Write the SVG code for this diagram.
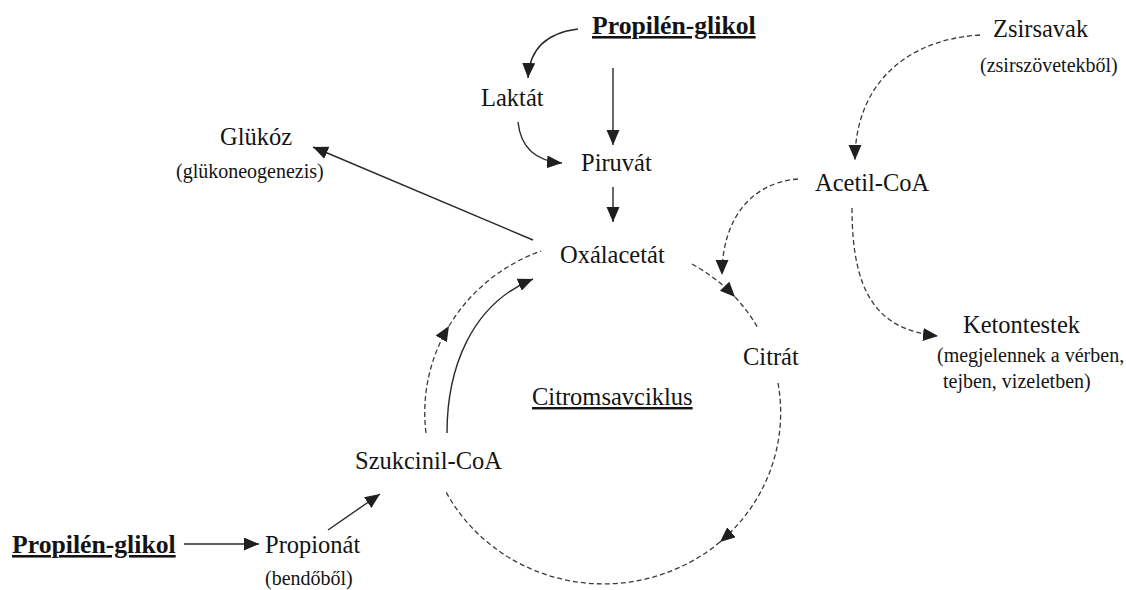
<svg xmlns="http://www.w3.org/2000/svg" width="1126" height="590" viewBox="0 0 1126 590">
<style>
text{font-family:"Liberation Serif","Times New Roman",serif;fill:#141414}
.m{font-size:24.5px}
.s{font-size:20px}
.b{font-size:25.7px;font-weight:bold;text-decoration:underline}
.u{text-decoration:underline}
.c{fill:none;stroke:#2a2a2a;stroke-width:1.4}
.d{fill:none;stroke:#3a3a3a;stroke-width:1.3;stroke-dasharray:5 3}
</style>
<defs>
<marker id="ah" markerUnits="userSpaceOnUse" markerWidth="17" markerHeight="15" refX="15" refY="6.5" orient="auto">
<path d="M0,0 L15,6.5 L0,13 z" fill="#1f1f1f"/>
</marker>
</defs>
<rect width="1126" height="590" fill="#fff"/>
<g id="connectors">
<path class="c" d="M578 29 Q530 35 528 78" marker-end="url(#ah)"/>
<path class="c" d="M613 68 L613 145" marker-end="url(#ah)"/>
<path class="c" d="M518 122 Q522 160 562 163" marker-end="url(#ah)"/>
<path class="c" d="M613 187 L613 222" marker-end="url(#ah)"/>
<path class="c" d="M533 240 L313 147" marker-end="url(#ah)"/>
<path class="c" d="M447 433 C447 370 470 305 533 279" marker-end="url(#ah)"/>
<path class="d" d="M426 433 A178 172 0 0 1 449 326" marker-end="url(#ah)"/>
<path class="d" d="M449 326 A178 172 0 0 1 541 251"/>
<path class="d" d="M692 264 A178 172 0 0 1 735 297" marker-end="url(#ah)"/>
<path class="d" d="M735 297 A178 172 0 0 1 758 328"/>
<path class="d" d="M778 383 A178 172 0 0 1 720 542" marker-end="url(#ah)"/>
<path class="d" d="M720 542 A178 172 0 0 1 445 490"/>
<path class="d" d="M798 179 C755 182 722 215 722 275" marker-end="url(#ah)"/>
<path class="d" d="M980 35 C900 40 855 90 855 160" marker-end="url(#ah)"/>
<path class="d" d="M852 208 C852 290 875 330 938 336" marker-end="url(#ah)"/>
<path class="c" d="M184 544 L259 544" marker-end="url(#ah)"/>
<path class="c" d="M328 530 L380 494" marker-end="url(#ah)"/>
</g>
<g id="propilen-glikol-top"><text class="b" x="592" y="34">Propilén-glikol</text></g>
<g id="laktat"><text class="m" x="481" y="106">Laktát</text></g>
<g id="piruvat"><text class="m" x="581" y="171">Piruvát</text></g>
<g id="glukoz"><text class="m" x="220" y="145">Glükóz</text><text class="s" x="176" y="178">(glükoneogenezis)</text></g>
<g id="oxalacetat"><text class="m" x="560" y="263">Oxálacetát</text></g>
<g id="citrat"><text class="m" x="743" y="365">Citrát</text></g>
<g id="citromsavciklus"><text class="m u" x="532" y="405">Citromsavciklus</text></g>
<g id="szukcinil-coa"><text class="m" x="355" y="469">Szukcinil-CoA</text></g>
<g id="propilen-glikol-bottom"><text class="b" x="12" y="553">Propilén-glikol</text></g>
<g id="propionat"><text class="m" x="265" y="553">Propionát</text><text class="s" x="265" y="585">(bendőből)</text></g>
<g id="zsirsavak"><text class="m" x="993" y="37">Zsirsavak</text><text class="s" x="980" y="72">(zsirszövetekből)</text></g>
<g id="acetil-coa"><text class="m" x="815" y="191">Acetil-CoA</text></g>
<g id="ketontestek"><text class="m" x="963" y="333">Ketontestek</text><text class="s" x="937" y="362">(megjelennek a vérben,</text><text class="s" x="943" y="388">tejben, vizeletben)</text></g>
</svg>
